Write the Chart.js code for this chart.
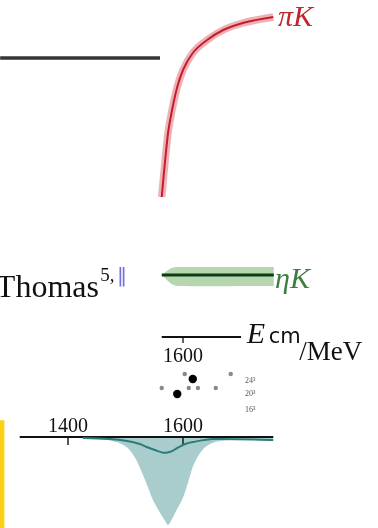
<!DOCTYPE html>
<html>
<head>
<meta charset="utf-8">
<script src="https://cdn.jsdelivr.net/npm/chart.js@4.4.1/dist/chart.umd.min.js"></script>
<style>
html,body{margin:0;padding:0;background:#fff;overflow:hidden;}
canvas{display:block;}
</style>
</head>
<body>
<canvas id="chart" width="378" height="528"></canvas>
<script>
/* ---------- data (x in MeV, y in panel units) ---------- */

// pi K curve (top panel)
const piKEnergy = [1563, 1566, 1569, 1574, 1581, 1590, 1600, 1617, 1642, 1670, 1704, 1757];
const piKValue  = [0.015, 0.11, 0.20, 0.335, 0.45, 0.565, 0.65, 0.735, 0.80, 0.85, 0.885, 0.915];

// flat black line, left of the top panel
const flatEnergy = [1282, 1560];
const flatValue  = [0.71, 0.71];

// eta K band
const etaEnergy = [1563, 1572, 1580, 1590, 1758];
const etaCentre = [0.62, 0.62, 0.62, 0.62, 0.62];
const etaUpper  = [0.62, 0.66, 0.69, 0.70, 0.70];
const etaLower  = [0.62, 0.57, 0.53, 0.51, 0.51];

// upper energy axis
const midAxisEnergy = [1563, 1701];
const midTicks = [1600];

// lattice points
const greyDotEnergy = [1563, 1603, 1683, 1610, 1626, 1657];
const greyDotValue  = [-0.51, -0.37, -0.37, -0.51, -0.51, -0.51];
const blackDotEnergy = [1617, 1590];
const blackDotValue  = [-0.42, -0.57];
const volumeLabels = ["24³", "20³", "16³"];
const volumeRows   = [-0.46, -0.59, -0.75];

// bottom panel: dip
const dipEnergy = [1426, 1456, 1473, 1490, 1504, 1517, 1525, 1536, 1548, 1560, 1569, 1574, 1579, 1588, 1600, 1609, 1617, 1626, 1635, 1642, 1656, 1682, 1717, 1757];
const dipValue  = [-0.01, -0.02, -0.04, -0.07, -0.125, -0.24, -0.35, -0.52, -0.72, -0.86, -0.955, -1.0, -0.955, -0.84, -0.69, -0.51, -0.34, -0.22, -0.14, -0.10, -0.057, -0.034, -0.023, -0.023];
const dipLineEnergy = [1426, 1473, 1503, 1525, 1537, 1551, 1568, 1581, 1590, 1604, 1617, 1652, 1757];
const dipLineValue  = [-0.011, -0.023, -0.045, -0.08, -0.114, -0.148, -0.18, -0.16, -0.125, -0.08, -0.057, -0.023, -0.034];
const botAxisEnergy = [1316, 1757];
const botTicks = [1400, 1600];

// yellow margin bar
const barEnergy = [1285, 1285];
const barValue  = [0.19, -1.1];


/* ---------- scale ranges ---------- */

const W = 378, H = 528;

function xRange(){
    const pxPerMeV = (183 - 68) / 200;
    return { min: 1400 - 68 / pxPerMeV, max: 1400 + (W - 68) / pxPerMeV };
}

function yRange(zeroPx, pxPerUnit){
    return { min: -(H - zeroPx) / pxPerUnit, max: zeroPx / pxPerUnit };
}

function pts(xs, ys){
    return xs.map((x, i) => ({ x, y: ys[i] }));
}

function line(xs, ys, axis, color, width, extra){
    return Object.assign({
        data: pts(xs, ys),
        yAxisID: axis,
        borderColor: color,
        borderWidth: width,
        pointRadius: 0,
        fill: false,
        tension: 0
    }, extra || {});
}


/* ---------- datasets ---------- */

const datasets = [

    // pi K
    line(piKEnergy, piKValue, "yTop", "#c41e2b", 2, { cubicInterpolationMode: "monotone", order: 1 }),
    line(piKEnergy, piKValue, "yTop", "rgba(214,70,85,0.42)", 7.5, { cubicInterpolationMode: "monotone", order: 2 }),

    line(flatEnergy, flatValue, "yTop", "#363636", 3.5),

    // eta K
    line(etaEnergy, etaCentre, "yMid", "#0e3d14", 3, { order: 1 }),
    line(etaEnergy, etaUpper, "yMid", "rgba(0,0,0,0)", 0, { tension: 0.2, order: 3 }),
    line(etaEnergy, etaLower, "yMid", "rgba(0,0,0,0)", 0, {
        tension: 0.2, order: 3, fill: "-1", backgroundColor: "rgba(120,180,110,0.55)"
    }),

    line(midAxisEnergy, [0, 0], "yMid", "#111", 1.8),
    ...midTicks.map(t => line([t, t], [0, -0.06], "yMid", "#111", 1.3)),

    // lattice points
    line(greyDotEnergy, greyDotValue, "yMid", "#888", 0, {
        showLine: false, pointRadius: 2.2, pointBackgroundColor: "#8a8a8a", pointBorderWidth: 0
    }),
    line(blackDotEnergy, blackDotValue, "yMid", "#000", 0, {
        showLine: false, pointRadius: 4.2, pointBackgroundColor: "#000", pointBorderWidth: 0
    }),

    // dip
    line(dipLineEnergy, dipLineValue, "yBot", "#2a7c79", 2, { tension: 0.3, order: 1 }),
    line(botAxisEnergy, [0, 0], "yBot", "#111", 2, { order: 2 }),
    ...botTicks.map(t => line([t, t], [0, -0.09], "yBot", "#111", 1.4, { order: 2 })),
    line(dipEnergy, dipValue, "yBot", "rgba(0,0,0,0)", 0, {
        tension: 0.3, order: 4, fill: { value: 0 }, backgroundColor: "#a9cdcc"
    }),

    line(barEnergy, barValue, "yBot", "#fdd017", 5)
];


/* ---------- text ---------- */

const SERIF = '"Liberation Serif", "DejaVu Serif", serif';
const SANS = '"DejaVu Sans", sans-serif';

const notes = [
    { text: "πK", x: 1765, axis: "yTop", y: 0.87, font: "italic 30px " + SERIF, color: "#c0262d" },
    { text: "ηK", x: 1760, axis: "yMid", y: 0.49, font: "italic 30px " + SERIF, color: "#3d7d3d" },
    { text: "Thomas", x: 1274.5, axis: "yMid", y: 0.40, font: "32px " + SERIF, color: "#111" },
    { text: "5,", x: 1456, axis: "yMid", y: 0.56, font: "19px " + SERIF, color: "#111" },
    { text: "‖", x: 1485, axis: "yMid", y: 0.55, font: "20px " + SANS, color: "#6f6fe0" },
    { text: "E", x: 1711, axis: "yMid", y: -0.06, font: "italic 30px " + SERIF, color: "#111" },
    { text: "cm", x: 1749, axis: "yMid", y: -0.06, font: "21px " + SANS, color: "#111" },
    { text: "/MeV", x: 1802, axis: "yMid", y: -0.23, font: "27px " + SERIF, color: "#111" }
];

midTicks.forEach(t => notes.push({ text: String(t), x: t, axis: "yMid", y: -0.25, font: "20px " + SERIF, color: "#111", align: "center" }));
botTicks.forEach(t => notes.push({ text: String(t), x: t, axis: "yBot", y: 0.057, font: "20px " + SERIF, color: "#111", align: "center" }));
volumeLabels.forEach((l, i) => notes.push({ text: l, x: 1708, axis: "yMid", y: volumeRows[i], font: "8px " + SERIF, color: "#555" }));

const notesPlugin = {
    id: "notes",
    afterDatasetsDraw(chart){
        const c = chart.ctx;
        c.save();
        c.textBaseline = "alphabetic";
        notes.forEach(n => {
            c.font = n.font;
            c.fillStyle = n.color;
            c.textAlign = n.align || "left";
            c.fillText(n.text, chart.scales.x.getPixelForValue(n.x), chart.scales[n.axis].getPixelForValue(n.y));
        });
        c.restore();
    }
};


/* ---------- chart ---------- */

new Chart(document.getElementById("chart"), {
    type: "line",
    data: { datasets },
    options: {
        responsive: false,
        animation: false,
        devicePixelRatio: 1,
        layout: { padding: 0, autoPadding: false },
        plugins: { legend: { display: false }, tooltip: { enabled: false } },
        scales: {
            x: Object.assign({ type: "linear", display: false }, xRange()),
            yTop: Object.assign({ type: "linear", display: false }, yRange(200, 200)),
            yMid: Object.assign({ type: "linear", display: false }, yRange(337, 100)),
            yBot: Object.assign({ type: "linear", display: false }, yRange(437, 88))
        }
    },
    plugins: [notesPlugin]
});
</script>
</body>
</html>
